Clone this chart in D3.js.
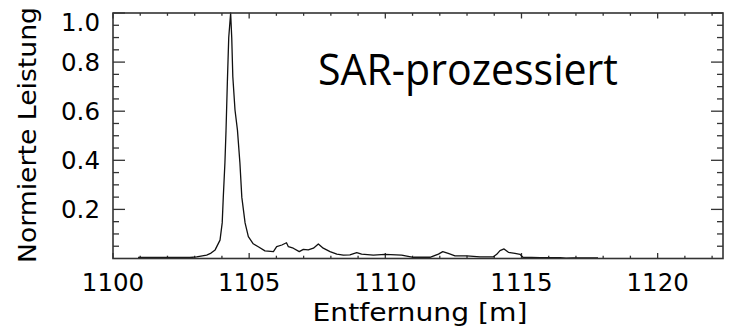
<!DOCTYPE html>
<html>
<head>
<meta charset="utf-8">
<script src="https://cdn.jsdelivr.net/npm/d3@7"></script>
<style>
  html, body { margin: 0; padding: 0; background: #fff; }
  svg { display: block; }
  .ax { font-family: "DejaVu Sans", sans-serif; font-weight: 400; fill: #000; }
</style>
</head>
<body>
<svg id="chart" width="731" height="335"></svg>
<script>
// ---- data ----
const distance = [1100.92, 1101.73, 1102.83, 1103.07, 1103.44, 1103.6, 1103.75, 1103.93, 1104.01, 1104.05,
  1104.11, 1104.15, 1104.2, 1104.25, 1104.32, 1104.36, 1104.4, 1104.48, 1104.57, 1104.66,
  1104.73, 1104.85, 1104.97, 1105.15, 1105.35, 1105.58, 1105.89, 1106.01, 1106.2, 1106.37,
  1106.44, 1106.62, 1106.84, 1106.99, 1107.17, 1107.36, 1107.54, 1107.72, 1107.97, 1108.22,
  1108.46, 1108.7, 1108.95, 1109.13, 1109.56, 1109.99, 1110.6, 1111.03, 1111.64, 1111.95,
  1112.11, 1112.31, 1112.56, 1112.99, 1113.48, 1113.97, 1114.09, 1114.21, 1114.36, 1114.52,
  1114.76, 1114.95, 1115.05, 1115.68, 1116.42, 1116.64, 1116.89, 1117.81];
const power = [0.004, 0.004, 0.004, 0.007, 0.014, 0.022, 0.035, 0.075, 0.145, 0.25,
  0.39, 0.52, 0.72, 0.90, 1.0, 0.90, 0.74, 0.605, 0.523, 0.39,
  0.25, 0.145, 0.089, 0.06, 0.047, 0.031, 0.028, 0.048, 0.055, 0.064,
  0.048, 0.042, 0.028, 0.037, 0.035, 0.042, 0.059, 0.042, 0.028, 0.018,
  0.014, 0.015, 0.024, 0.018, 0.014, 0.017, 0.014, 0.005, 0.005, 0.018,
  0.028, 0.021, 0.011, 0.011, 0.007, 0.007, 0.017, 0.032, 0.039, 0.025,
  0.021, 0.017, 0.005, 0.003, 0.003, 0.001, 0.002, 0.002];
const xMajorTicks = [1100, 1105, 1110, 1115, 1120];
const xMinorTicks = d3.range(1100, 1123, 1);
const yMajorTicks = [0.2, 0.4, 0.6, 0.8, 1.0];
const yMinorTicks = d3.range(0.05, 1.0, 0.05);
const yTickLabels = ["0.2", "0.4", "0.6", "0.8", "1.0"];
const xTickLabels = ["1100", "1105", "1110", "1115", "1120"];
const xTitle = "Entfernung [m]";
const yTitle = "Normierte Leistung";
const annotation = "SAR-prozessiert";

// ---- layout ----
const L = 113, R = 723, T = 13, B = 258.5;
const svg = d3.select("#chart");
const x = d3.scaleLinear().domain([1100, 1122.4]).range([L, R]);
const y = d3.scaleLinear().domain([0, 1.0]).range([B, T]);

const frameColor = "#333";

// ticks (inward on all four sides)
const g = svg.append("g").attr("stroke", frameColor).attr("stroke-width", 1.3);
function xtick(v, len) {
  g.append("line").attr("x1", x(v)).attr("x2", x(v)).attr("y1", B).attr("y2", B - len);
  g.append("line").attr("x1", x(v)).attr("x2", x(v)).attr("y1", T).attr("y2", T + len);
}
function ytick(v, len) {
  g.append("line").attr("y1", y(v)).attr("y2", y(v)).attr("x1", L).attr("x2", L + len);
  g.append("line").attr("y1", y(v)).attr("y2", y(v)).attr("x1", R).attr("x2", R - len);
}
xMinorTicks.forEach(v => { if (!xMajorTicks.includes(v)) xtick(v, 2.8); });
xMajorTicks.forEach(v => xtick(v, 5.5));
yMinorTicks.forEach(v => {
  if (!yMajorTicks.some(m => Math.abs(m - v) < 1e-6)) ytick(v, 6);
});
yMajorTicks.forEach(v => ytick(v, 12));

// curve
const line = d3.line().x(d => x(d[0])).y(d => y(d[1]));
svg.append("path")
  .datum(d3.zip(distance, power))
  .attr("d", line)
  .attr("fill", "none")
  .attr("stroke", "#111")
  .attr("stroke-width", 1.3)
  .attr("stroke-linejoin", "round");

// frame
svg.append("rect").attr("x", L).attr("y", T).attr("width", R - L).attr("height", B - T)
  .attr("fill", "none").attr("stroke", frameColor).attr("stroke-width", 1.6);

// x tick labels
svg.selectAll(".xl").data(xMajorTicks).enter().append("text")
  .attr("class", "ax")
  .attr("x", d => x(d)).attr("y", 291)
  .attr("text-anchor", "middle")
  .attr("font-size", 24.5)
  .text((d, i) => xTickLabels[i]);

// y tick labels
svg.selectAll(".yl").data(yMajorTicks).enter().append("text")
  .attr("class", "ax")
  .attr("x", 100)
  .attr("y", d => (d >= 1.0 ? y(d) + 9 : y(d)) + 9)
  .attr("text-anchor", "end")
  .attr("font-size", 24.5)
  .text((d, i) => yTickLabels[i]);

// axis titles
svg.append("text").attr("class", "ax")
  .attr("x", (L + R) / 2 + 2).attr("y", 321)
  .attr("text-anchor", "middle").attr("font-size", 24.5)
  .attr("textLength", 215).attr("lengthAdjust", "spacingAndGlyphs")
  .text(xTitle);

svg.append("text").attr("class", "ax")
  .attr("transform", "translate(36,135) rotate(-90)")
  .attr("text-anchor", "middle").attr("font-size", 24.5)
  .attr("textLength", 256).attr("lengthAdjust", "spacingAndGlyphs")
  .text(yTitle);

// annotation
svg.append("text")
  .attr("x", 318).attr("y", 85)
  .attr("font-family", "'Open Sans', sans-serif")
  .attr("font-size", 44)
  .attr("fill", "#000")
  .attr("textLength", 300).attr("lengthAdjust", "spacingAndGlyphs")
  .text(annotation);
</script>
</body>
</html>
